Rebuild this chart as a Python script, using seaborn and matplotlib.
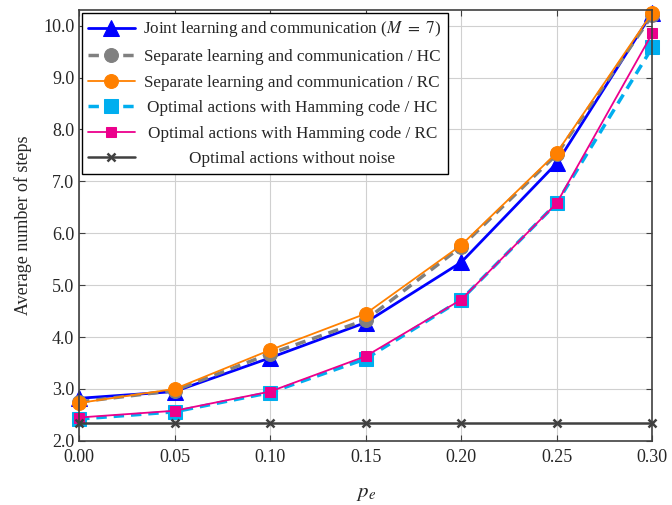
import numpy as np
import matplotlib
matplotlib.use("Agg")
import matplotlib.pyplot as plt
import seaborn as sns

# data
pe = [0.00, 0.05, 0.10, 0.15, 0.20, 0.25, 0.30]
joint = [2.82, 2.95, 3.60, 4.28, 5.44, 7.35, 10.25]
sep_hc = [2.75, 2.97, 3.68, 4.33, 5.74, 7.52, 10.20]
sep_rc = [2.73, 3.00, 3.75, 4.45, 5.77, 7.55, 10.25]
opt_hc = [2.42, 2.56, 2.93, 3.58, 4.72, 6.58, 9.58]
opt_rc = [2.45, 2.58, 2.95, 3.63, 4.72, 6.58, 9.85]
no_noise = [2.35, 2.35, 2.35, 2.35, 2.35, 2.35, 2.35]

labels = [
    r"Joint learning and communication ($M\ =\ 7$)",
    "Separate learning and communication / HC",
    "Separate learning and communication / RC",
    "Optimal actions with Hamming code / HC",
    "Optimal actions with Hamming code / RC",
    "Optimal actions without noise",
]

sns.set_style("whitegrid", {"grid.color": "#d0d0d0", "axes.edgecolor": "#404040",
                            "xtick.direction": "in", "ytick.direction": "in"})
plt.rcParams["font.family"] = ["Liberation Serif", "DejaVu Serif"]
plt.rcParams["mathtext.fontset"] = "stix"

fig = plt.figure(figsize=(6.72, 5.05), dpi=100)
ax = fig.add_axes([0.1176, 0.127, 0.853, 0.853])

common = dict(ax=ax, clip_on=False)
sns.lineplot(x=pe, y=joint, color="#0000ff", lw=2, marker="^", ms=11,
             mec="#0000ff", label=labels[0], **common)
sns.lineplot(x=pe, y=sep_hc, color="#808080", lw=2.5, ls=(0, (3, 2)), marker="o",
             ms=10, mec="#808080", label=labels[1], **common)
sns.lineplot(x=pe, y=sep_rc, color="#ff8000", lw=1.3, marker="o", ms=10,
             mec="#ff8000", label=labels[2], **common)
sns.lineplot(x=pe, y=opt_hc, color="#00aeef", lw=2.5, ls=(0, (3, 2)), marker="s",
             ms=10, mec="#00aeef", label=labels[3], **common)
sns.lineplot(x=pe, y=opt_rc, color="#ec008c", lw=1.3, marker="s", ms=7,
             mec="#ec008c", label=labels[4], **common)
sns.lineplot(x=pe, y=no_noise, color="#404040", lw=1.8, marker="x", ms=6,
             mew=1.8, mec="#404040", label=labels[5], **common)

ax.set_xlim(0, 0.30)
ax.set_ylim(2.0, 10.3)
ax.set_xticks(pe)
ax.set_xticklabels([f"{v:.2f}" for v in pe])
ax.set_yticks(np.arange(2, 10.5, 1.0))
ax.set_yticklabels([f"{v:.1f}" for v in np.arange(2, 10.5, 1.0)])
ax.tick_params(labelsize=13, length=4, color="#404040", right=True, top=True,
               left=True, bottom=True)
ax.tick_params(axis="x", pad=6)
ax.set_xlabel(r"$p_e$", fontsize=15, labelpad=13)
ax.set_ylabel("Average number of steps", fontsize=13, labelpad=8)
for s in ax.spines.values():
    s.set_linewidth(1.2)
    s.set_color("#404040")

leg = ax.legend(loc="upper left", fontsize=12.3, frameon=True, fancybox=False,
                edgecolor="black", framealpha=1, handlelength=2.7,
                borderaxespad=0.15, labelspacing=0.56, handletextpad=0.5)
leg.get_frame().set_linewidth(1.0)
leg.set_zorder(10)

# centre the legend texts in their column
fig.canvas.draw()
r = fig.canvas.get_renderer()
widths = [t.get_window_extent(r).width for t in leg.get_texts()]
wmax = max(widths)
for t, w in zip(leg.get_texts(), widths):
    t.set_x(t.get_position()[0] + (wmax - w) / 2)

fig.savefig("out.png", dpi=100)
